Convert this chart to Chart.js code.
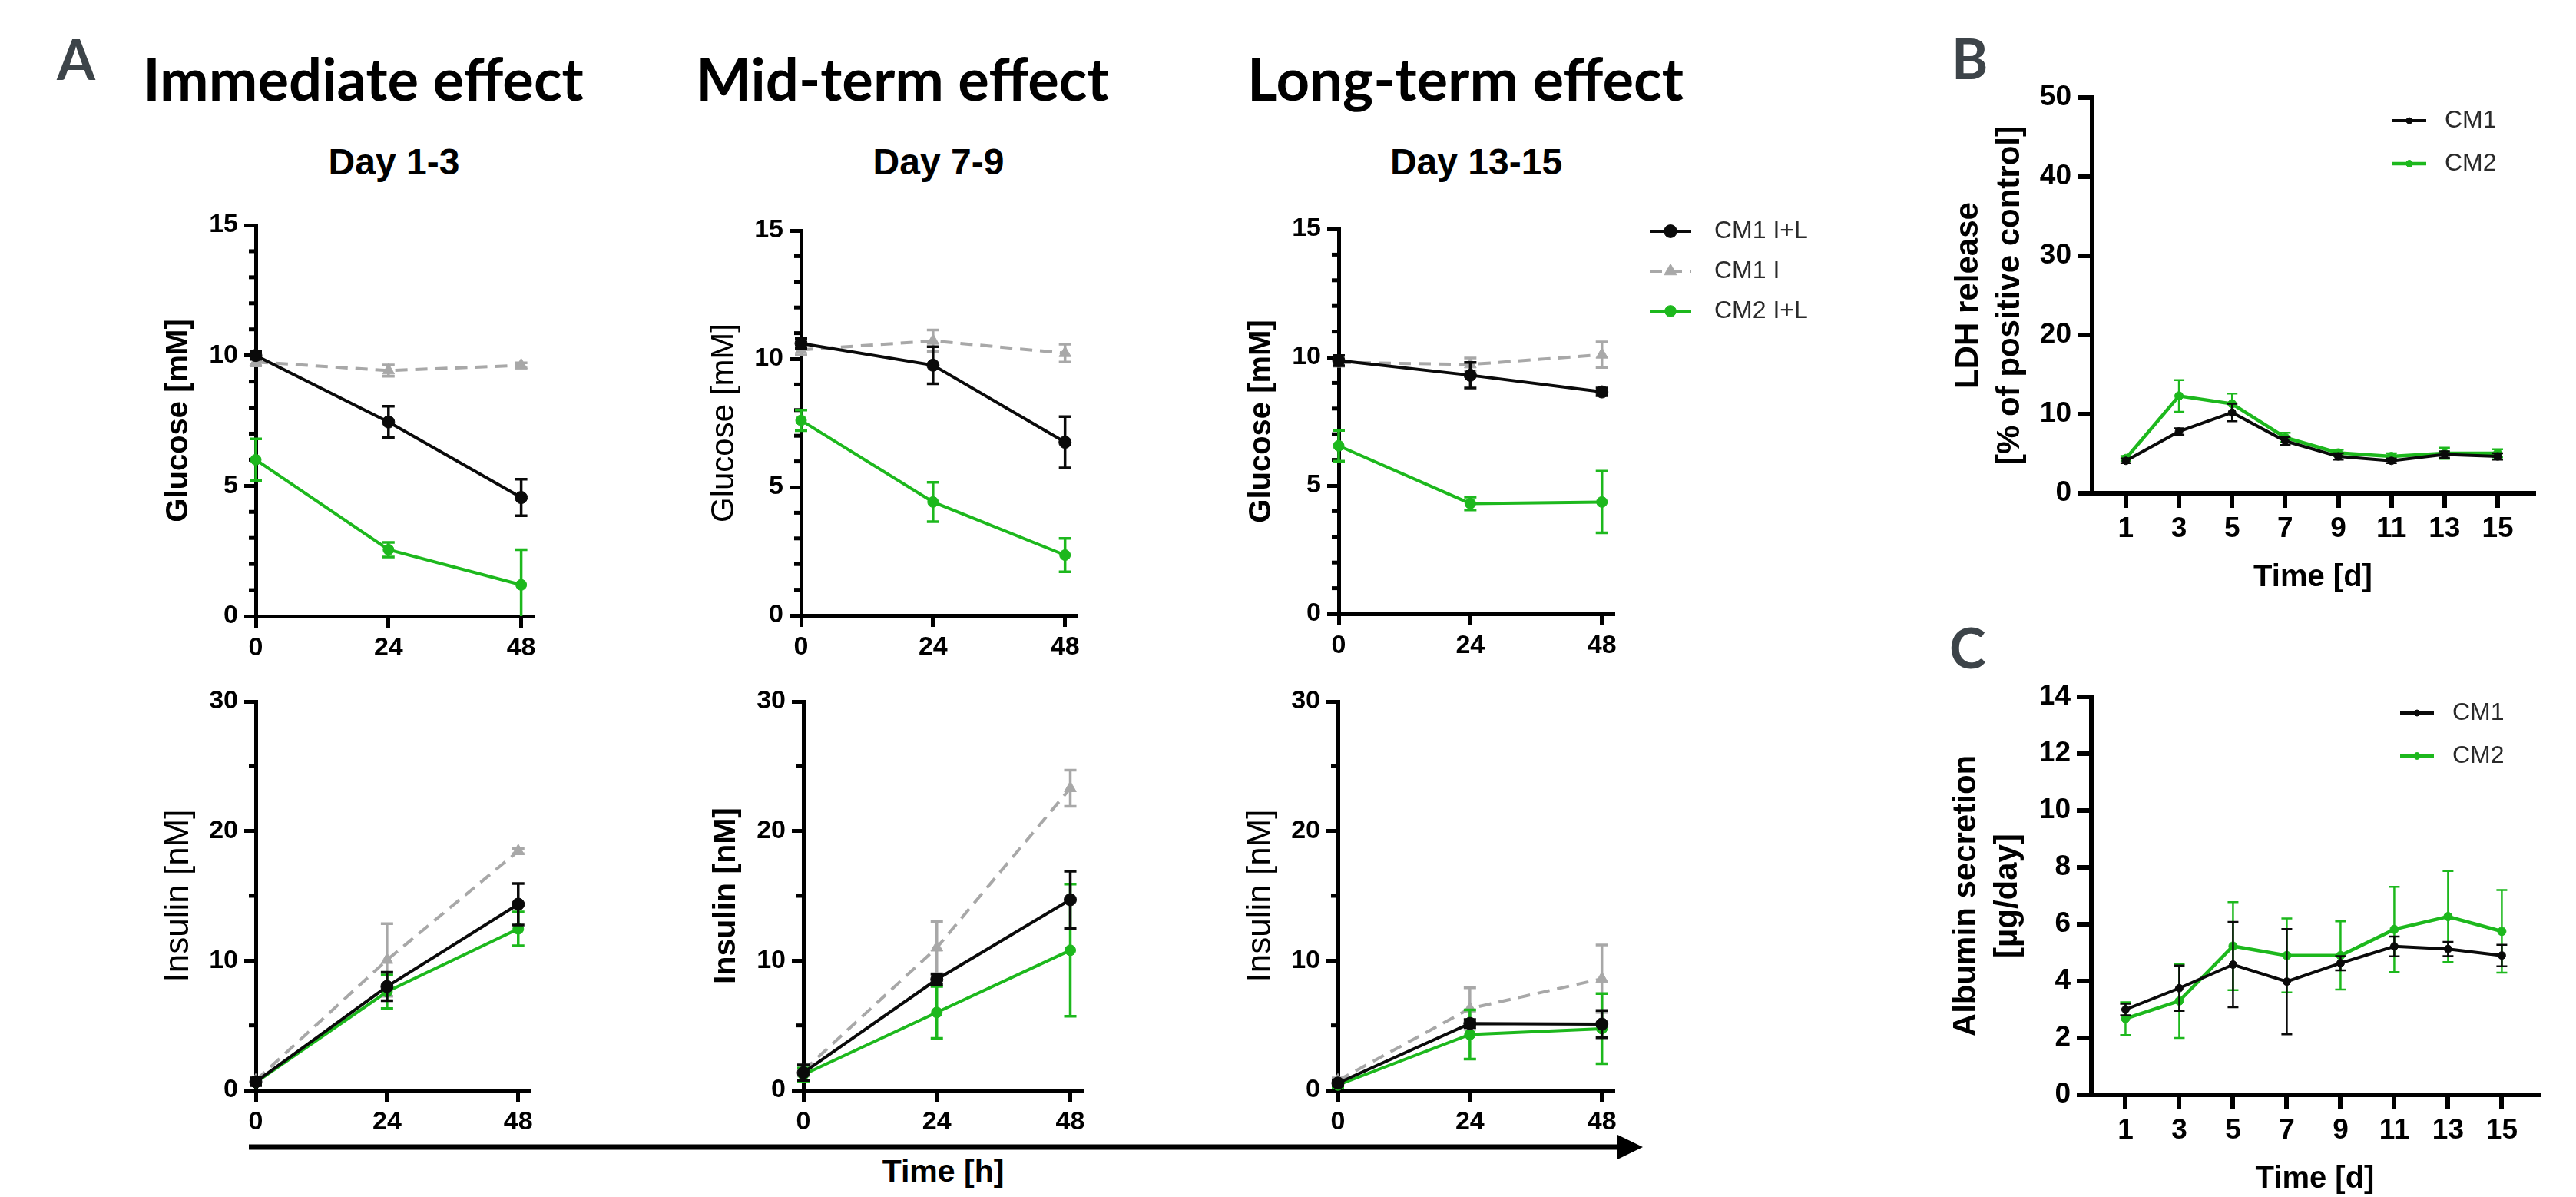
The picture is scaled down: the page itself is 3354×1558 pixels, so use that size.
<!DOCTYPE html>
<html>
<head>
<meta charset="utf-8">
<title>Glucose, insulin, LDH and albumin</title>
<script src="https://cdn.jsdelivr.net/npm/chart.js@4.4.1/dist/chart.umd.min.js"></script>
<style>
  html, body { margin: 0; padding: 0; background: #fff; }
  #fig { position: relative; width: 3354px; height: 1558px; overflow: hidden; background: #fff; }
  .box { position: absolute; }
  .t { position: absolute; white-space: nowrap; line-height: 1; color: #000; }
  .head { font-family: Lato, sans-serif; font-weight: 700; font-size: 76px; transform: translateX(-50%); }
  .day { font-family: "Liberation Sans", Arial, sans-serif; font-weight: 700; font-size: 48px; transform: translateX(-50%); }
  .letter { font-family: Lato, sans-serif; font-weight: 700; font-size: 72px; color: #3d4449; }
  .xlab { font-family: "Liberation Sans", Arial, sans-serif; font-weight: 700; font-size: 41px; transform: translateX(-50%); }
</style>
</head>
<body>
<div id="fig">
  <svg class="box" style="left:0;top:0" width="3354" height="1558">
    <line x1="324" y1="1493" x2="2110" y2="1493" stroke="#000" stroke-width="7"/>
    <polygon points="2106,1477 2139,1493 2106,1509" fill="#000"/>
  </svg>
  <div class="t letter" style="left:74px;top:40px">A</div>
  <div class="t letter" style="left:2541px;top:39px">B</div>
  <div class="t letter" style="left:2538px;top:806px">C</div>
  <div class="t head" style="left:473px;top:64px">Immediate effect</div>
  <div class="t head" style="left:1175px;top:64px">Mid-term effect</div>
  <div class="t head" style="left:1908px;top:64px">Long-term effect</div>
  <div class="t day" style="left:513px;top:187px">Day 1-3</div>
  <div class="t day" style="left:1222px;top:187px">Day 7-9</div>
  <div class="t day" style="left:1922px;top:187px">Day 13-15</div>
  <div class="t xlab" style="left:1228px;top:1504px">Time [h]</div>
</div>
<script>
// ---------- data ----------
const hours = [0, 24, 48];
const hourTicks = [0, 24, 48];
const glucoseMinorTicks = [1, 2, 3, 4, 6, 7, 8, 9, 11, 12, 13, 14];
const insulinMinorTicks = [5, 15, 25];
const days = [1, 3, 5, 7, 9, 11, 13, 15];
const dayTicks = [1, 3, 5, 7, 9, 11, 13, 15];

// Glucose [mM], day 1-3
const gluD1_cm1IL = [10.0, 7.45, 4.55];
const gluD1_cm1IL_sd = [0.15, 0.6, 0.7];
const gluD1_cm1I = [9.75, 9.42, 9.62];
const gluD1_cm1I_sd = [0.15, 0.22, 0.1];
const gluD1_cm2IL = [6.0, 2.55, 1.2];
const gluD1_cm2IL_sd = [0.8, 0.28, 1.35];

// Glucose [mM], day 7-9
const gluD7_cm1IL = [10.6, 9.75, 6.75];
const gluD7_cm1IL_sd = [0.2, 0.72, 1.0];
const gluD7_cm1I = [10.35, 10.7, 10.22];
const gluD7_cm1I_sd = [0.2, 0.42, 0.35];
const gluD7_cm2IL = [7.6, 4.42, 2.35];
const gluD7_cm2IL_sd = [0.4, 0.77, 0.65];

// Glucose [mM], day 13-15
const gluD13_cm1IL = [9.87, 9.3, 8.65];
const gluD13_cm1IL_sd = [0.2, 0.5, 0.15];
const gluD13_cm1I = [9.8, 9.72, 10.1];
const gluD13_cm1I_sd = [0.15, 0.25, 0.5];
const gluD13_cm2IL = [6.55, 4.3, 4.36];
const gluD13_cm2IL_sd = [0.6, 0.25, 1.2];

// Insulin [nM], day 1-3
const insD1_cm1IL = [0.65, 8.0, 14.35];
const insD1_cm1IL_sd = [0.3, 1.1, 1.6];
const insD1_cm1I = [0.75, 10.05, 18.45];
const insD1_cm1I_sd = [0.2, 2.8, 0.2];
const insD1_cm2IL = [0.6, 7.6, 12.45];
const insD1_cm2IL_sd = [0.2, 1.3, 1.3];

// Insulin [nM], day 7-9
const insD7_cm1IL = [1.35, 8.55, 14.7];
const insD7_cm1IL_sd = [0.6, 0.4, 2.2];
const insD7_cm1I = [1.5, 11.0, 23.3];
const insD7_cm1I_sd = [0.4, 2.0, 1.4];
const insD7_cm2IL = [1.2, 6.0, 10.8];
const insD7_cm2IL_sd = [0.5, 2.0, 5.1];

// Insulin [nM], day 13-15
const insD13_cm1IL = [0.55, 5.15, 5.1];
const insD13_cm1IL_sd = [0.2, 0.3, 1.05];
const insD13_cm1I = [0.75, 6.3, 8.6];
const insD13_cm1I_sd = [0.2, 1.6, 2.6];
const insD13_cm2IL = [0.4, 4.3, 4.75];
const insD13_cm2IL_sd = [0.2, 1.9, 2.7];

// LDH release [% of positive control]
const ldh_cm1 = [4.1, 7.8, 10.2, 6.6, 4.65, 4.1, 4.9, 4.65];
const ldh_cm1_sd = [0.3, 0.4, 1.1, 0.5, 0.4, 0.3, 0.4, 0.4];
const ldh_cm2 = [4.4, 12.3, 11.3, 7.05, 5.1, 4.65, 5.05, 5.05];
const ldh_cm2_sd = [0.3, 2.0, 1.3, 0.6, 0.4, 0.4, 0.7, 0.5];

// Albumin secretion [µg/day]
const alb_cm1 = [3.0, 3.75, 4.58, 3.98, 4.63, 5.22, 5.13, 4.9];
const alb_cm1_sd = [0.2, 0.8, 1.5, 1.85, 0.25, 0.35, 0.25, 0.38];
const alb_cm2 = [2.68, 3.3, 5.23, 4.9, 4.9, 5.82, 6.27, 5.75];
const alb_cm2_sd = [0.58, 1.3, 1.55, 1.3, 1.2, 1.5, 1.6, 1.45];

// ---------- styles ----------
const FONT = '"Liberation Sans", Arial, sans-serif';
const BLACK = '#0a0a0a';
const GREEN = '#1db81d';
const GRAY = '#a8a8a8';
Chart.defaults.font.family = FONT;

const lookCM1IL = {borderColor: BLACK, backgroundColor: BLACK, pointBackgroundColor: BLACK, pointBorderColor: BLACK,
  borderWidth: 4, pointStyle: 'circle', pointRadius: 8, pointBorderWidth: 1, errorWidth: 3.5, capHalf: 8};
const lookCM1I = {borderColor: GRAY, backgroundColor: GRAY, pointBackgroundColor: GRAY, pointBorderColor: GRAY,
  borderWidth: 4, borderDash: [16, 10], pointStyle: 'triangle', pointRadius: 9, pointBorderWidth: 1, errorWidth: 3.5, capHalf: 8};
const lookCM2IL = {borderColor: GREEN, backgroundColor: GREEN, pointBackgroundColor: GREEN, pointBorderColor: GREEN,
  borderWidth: 4, pointStyle: 'circle', pointRadius: 7, pointBorderWidth: 1, errorWidth: 3.5, capHalf: 8};
const lookCM1 = {borderColor: BLACK, backgroundColor: BLACK, pointBackgroundColor: BLACK, pointBorderColor: BLACK,
  borderWidth: 4, pointStyle: 'circle', pointRadius: 5, pointBorderWidth: 1, errorWidth: 2.5, capHalf: 7};
const lookCM2 = {borderColor: GREEN, backgroundColor: GREEN, pointBackgroundColor: GREEN, pointBorderColor: GREEN,
  borderWidth: 4.5, pointStyle: 'circle', pointRadius: 5.5, pointBorderWidth: 1, errorWidth: 2.5, capHalf: 7};

function series(label, xs, ys, sd, look) {
  return Object.assign({
    label: label,
    data: xs.map((x, i) => ({x: x, y: ys[i]})),
    errors: sd,
    clip: false,
    tension: 0,
    fill: false
  }, look);
}

// ---------- plugins ----------
// mean +/- SD whiskers, drawn under each dataset's markers
const errorBars = {
  id: 'errorBars',
  beforeDatasetDraw(chart, args) {
    const ds = chart.data.datasets[args.index];
    if (!ds.errors) return;
    const ys = chart.scales.y;
    const ctx = chart.ctx;
    ctx.save();
    ctx.strokeStyle = ds.borderColor;
    ctx.lineWidth = ds.errorWidth;
    ctx.setLineDash([]);
    args.meta.data.forEach((pt, i) => {
      const v = ds.data[i].y;
      const e = ds.errors[i];
      if (!e) return;
      const pHi = ys.getPixelForValue(v + e);
      const pLo = ys.getPixelForValue(Math.max(v - e, ys.min));
      ctx.beginPath();
      ctx.moveTo(pt.x, pHi);
      ctx.lineTo(pt.x, pLo);
      ctx.moveTo(pt.x - ds.capHalf, pHi);
      ctx.lineTo(pt.x + ds.capHalf, pHi);
      if (v - e >= ys.min) {
        ctx.moveTo(pt.x - ds.capHalf, pLo);
        ctx.lineTo(pt.x + ds.capHalf, pLo);
      }
      ctx.stroke();
    });
    ctx.restore();
  }
};

// short unlabeled ticks on the y axis
const minorTicks = {
  id: 'minorTicks',
  beforeDatasetsDraw(chart, args, o) {
    if (!o.values || !o.values.length) return;
    const ys = chart.scales.y;
    const ctx = chart.ctx;
    ctx.save();
    ctx.strokeStyle = '#000';
    ctx.lineWidth = o.width;
    o.values.forEach(v => {
      const py = ys.getPixelForValue(v);
      ctx.beginPath();
      ctx.moveTo(ys.right - o.len, py);
      ctx.lineTo(ys.right, py);
      ctx.stroke();
    });
    ctx.restore();
  }
};

// Prism-style key: line + marker + label
const seriesKey = {
  id: 'seriesKey',
  afterDraw(chart, args, o) {
    if (o.x === undefined) return;
    const ctx = chart.ctx;
    const order = o.order || chart.data.datasets.map((d, i) => i);
    order.forEach((di, row) => {
      const ds = chart.data.datasets[di];
      const cy = o.y + row * o.gap;
      ctx.save();
      ctx.strokeStyle = ds.borderColor;
      ctx.lineWidth = ds.borderWidth;
      ctx.setLineDash(ds.borderDash || []);
      ctx.beginPath();
      ctx.moveTo(o.x, cy);
      ctx.lineTo(o.x + o.len, cy);
      ctx.stroke();
      ctx.setLineDash([]);
      ctx.fillStyle = ds.pointBackgroundColor;
      ctx.lineWidth = 1;
      Chart.helpers.drawPoint(ctx, {pointStyle: ds.pointStyle, radius: ds.pointRadius * o.markScale, rotation: 0, borderWidth: 1},
        o.x + o.len / 2, cy);
      ctx.fillStyle = o.color;
      ctx.font = o.font;
      ctx.textBaseline = 'middle';
      ctx.textAlign = 'left';
      ctx.fillText(ds.label, o.x + o.len + o.textGap, cy);
      ctx.restore();
    });
  }
};

const FIG = document.getElementById('fig');

function panel(f, datasets, ax, key) {
  const left = f.axisX - f.yW;
  const top = f.top - f.padTop;
  const w = f.yW + (f.right - f.axisX) + f.padRight;
  const h = f.padTop + (f.bottom - f.top) + f.xH;
  const holder = document.createElement('div');
  holder.className = 'box';
  holder.style.cssText = 'left:' + left + 'px;top:' + top + 'px;width:' + w + 'px;height:' + h + 'px';
  const cv = document.createElement('canvas');
  cv.width = w;
  cv.height = h;
  cv.style.width = w + 'px';
  cv.style.height = h + 'px';
  holder.appendChild(cv);
  FIG.appendChild(holder);

  const yLH = ax.yTitleSize * ax.yTitleLH;
  const grid = () => ({display: true, drawOnChartArea: false, drawTicks: true, tickLength: ax.tickLen, color: '#000', lineWidth: ax.axisW});
  const border = () => ({display: true, color: '#000', width: ax.axisW});
  const tickFont = () => ({family: FONT, weight: 'bold', size: ax.tickSize, lineHeight: 1.2});

  let xTitle = {display: false};
  if (ax.xTitle) {
    const xLH = ax.xTitleSize * 1.2;
    xTitle = {display: true, text: ax.xTitle, color: '#000',
      font: {family: FONT, weight: 'bold', size: ax.xTitleSize, lineHeight: 1.2},
      padding: {top: 0, bottom: (top + h) - ax.xTitleY - xLH / 2}};
  }

  let keyOpts = {};
  if (key) keyOpts = Object.assign({}, key, {x: key.x - left, y: key.y - top});

  return new Chart(cv, {
    type: 'line',
    data: {datasets: datasets},
    options: {
      responsive: false,
      animation: false,
      devicePixelRatio: 1,
      layout: {padding: {left: 0, top: f.padTop, right: f.padRight, bottom: 0}},
      plugins: {
        legend: {display: false},
        tooltip: {enabled: false},
        minorTicks: {values: ax.minor || [], len: ax.minorLen || 0, width: ax.axisW},
        seriesKey: keyOpts
      },
      scales: {
        x: {
          type: 'linear', min: ax.xMin, max: ax.xMax,
          afterBuildTicks: s => { s.ticks = ax.xTicks.map(v => ({value: v})); },
          afterFit: s => { s.height = f.xH; },
          grid: grid(), border: border(),
          ticks: {color: '#000', font: tickFont(), padding: ax.xPad, maxRotation: 0, minRotation: 0, autoSkip: false},
          title: xTitle
        },
        y: {
          type: 'linear', min: 0, max: ax.yMax,
          afterFit: s => { s.width = f.yW; },
          grid: grid(), border: border(),
          ticks: {stepSize: ax.yStep, color: '#000', font: tickFont(), padding: ax.yPad},
          title: {display: true, text: ax.yTitle, color: '#000',
            font: {family: FONT, weight: ax.yTitleBold ? 'bold' : 'normal', size: ax.yTitleSize, lineHeight: ax.yTitleLH},
            padding: {top: f.yW - f.titleOff - yLH / 2, bottom: 0}}
        }
      }
    },
    plugins: [errorBars, minorTicks, seriesKey]
  });
}

// ---------- panel A ----------
function axesA(yTitle, bold, size, yMax, yStep, minor) {
  return {xMin: 0, xMax: 50, xTicks: hourTicks, yMax: yMax, yStep: yStep, minor: minor, minorLen: 9,
    tickLen: 15, axisW: 5, tickSize: 34, xPad: 6, yPad: 8,
    yTitle: yTitle, yTitleBold: bold, yTitleSize: size, yTitleLH: 1.2};
}
function setA(a, aSd, b, bSd, c, cSd) {
  // drawn last-to-first: CM1 I (grey) at the bottom, CM1 I+L (black) on top
  return [
    series('CM1 I+L', hours, a, aSd, lookCM1IL),
    series('CM2 I+L', hours, c, cSd, lookCM2IL),
    series('CM1 I', hours, b, bSd, lookCM1I)
  ];
}
const frameA = (axisX, top, bottom, right, padRight) =>
  ({axisX: axisX, top: top, bottom: bottom, right: right, yW: 250, padTop: 40, padRight: padRight || 30, xH: 70, titleOff: 100});

panel(frameA(333, 293, 802, 693),
  setA(gluD1_cm1IL, gluD1_cm1IL_sd, gluD1_cm1I, gluD1_cm1I_sd, gluD1_cm2IL, gluD1_cm2IL_sd),
  axesA('Glucose [mM]', true, 40, 15, 5, glucoseMinorTicks));
panel(frameA(1043, 300, 801, 1401),
  setA(gluD7_cm1IL, gluD7_cm1IL_sd, gluD7_cm1I, gluD7_cm1I_sd, gluD7_cm2IL, gluD7_cm2IL_sd),
  axesA('Glucose [mM]', false, 42, 15, 5, glucoseMinorTicks));
panel(frameA(1743, 298, 799, 2100, 260),
  setA(gluD13_cm1IL, gluD13_cm1IL_sd, gluD13_cm1I, gluD13_cm1I_sd, gluD13_cm2IL, gluD13_cm2IL_sd),
  axesA('Glucose [mM]', true, 40, 15, 5, glucoseMinorTicks),
  {x: 2148, y: 301, gap: 52, len: 54, textGap: 30, markScale: 1.05, order: [0, 2, 1],
   font: '32px ' + FONT, color: '#2a2a2a'});

panel(frameA(333, 913, 1419, 689),
  setA(insD1_cm1IL, insD1_cm1IL_sd, insD1_cm1I, insD1_cm1I_sd, insD1_cm2IL, insD1_cm2IL_sd),
  axesA('Insulin [nM]', false, 44, 30, 10, insulinMinorTicks));
panel(frameA(1046, 913, 1419, 1408),
  setA(insD7_cm1IL, insD7_cm1IL_sd, insD7_cm1I, insD7_cm1I_sd, insD7_cm2IL, insD7_cm2IL_sd),
  axesA('Insulin [nM]', true, 41, 30, 10, insulinMinorTicks));
panel(frameA(1742, 913, 1419, 2100),
  setA(insD13_cm1IL, insD13_cm1IL_sd, insD13_cm1I, insD13_cm1I_sd, insD13_cm2IL, insD13_cm2IL_sd),
  axesA('Insulin [nM]', false, 44, 30, 10, insulinMinorTicks));

// ---------- panels B and C ----------
function axesBC(yTitle, yMax, yStep, xTitleY) {
  return {xMin: -0.27, xMax: 16.36, xTicks: dayTicks, yMax: yMax, yStep: yStep,
    tickLen: 19, axisW: 6, tickSize: 37, xPad: 6, yPad: 8,
    yTitle: yTitle, yTitleBold: true, yTitleSize: 42, yTitleLH: 54 / 42,
    xTitle: 'Time [d]', xTitleSize: 40, xTitleY: xTitleY};
}
const keyBC = (x, y) => ({x: x, y: y, gap: 56, len: 44, textGap: 24, markScale: 0.8, font: '32px ' + FONT, color: '#2a2a2a'});

panel({axisX: 2724, top: 127, bottom: 642, right: 3299, yW: 200, padTop: 40, padRight: 40, xH: 135, titleOff: 161},
  [series('CM1', days, ldh_cm1, ldh_cm1_sd, lookCM1), series('CM2', days, ldh_cm2, ldh_cm2_sd, lookCM2)],
  axesBC(['LDH release', '[% of positive control]'], 50, 10, 752),
  keyBC(3115, 157));

panel({axisX: 2723, top: 907, bottom: 1425, right: 3305, yW: 200, padTop: 40, padRight: 40, xH: 133, titleOff: 163},
  [series('CM1', days, alb_cm1, alb_cm1_sd, lookCM1), series('CM2', days, alb_cm2, alb_cm2_sd, lookCM2)],
  axesBC(['Albumin secretion', '[µg/day]'], 14, 2, 1535),
  keyBC(3125, 928));
</script>
</body>
</html>
